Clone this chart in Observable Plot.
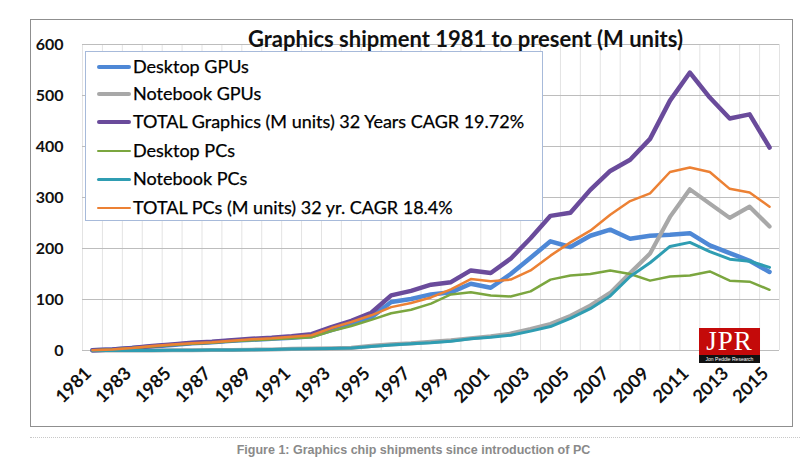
<!DOCTYPE html>
<html>
<head>
<meta charset="utf-8">
<script src="https://cdn.jsdelivr.net/npm/d3@7"></script>
<script src="https://cdn.jsdelivr.net/npm/@observablehq/plot@0.6"></script>
<style>
  html, body { margin: 0; padding: 0; background: #fff; }
  #wrap { position: relative; width: 800px; height: 461px; overflow: hidden; background: #fff; }
  #chart { position: absolute; left: 0; top: 0; }
  .abs { position: absolute; }
  #frame { left: 30px; top: 19px; width: 761px; height: 406px; border: 1.5px solid #8f8f8f; pointer-events: none; }
  #title { left: 0; width: 931px; top: 25px; text-align: center; font: bold 22px Lato, sans-serif; color: #111; white-space: nowrap; }
  #legend { left: 85px; top: 51px; width: 456px; height: 168px; border: 1px solid #a7bada; background: #fff; }
  .lg-row { position: absolute; left: 0; height: 20px; }
  .lg-line { position: absolute; left: 11px; width: 34px; border-radius: 2px; }
  .lg-text { position: absolute; left: 47px; top: -12px; font: 18px Lato, sans-serif; color: #000; white-space: nowrap; line-height: 22px; -webkit-text-stroke: 0.25px #000; }
  #logo { left: 699px; top: 328px; width: 61px; height: 35px; background: #c40a0a; }
  #logo .jpr { position: absolute; left: 0; width: 61px; top: -2px; text-align: center; font: 27px "Liberation Serif", serif; color: #fff; line-height: 30px; letter-spacing: 1px; }
  #logo .strip { position: absolute; left: 0; top: 27px; width: 61px; height: 8px; background: #111; color: #fff; font: 5px "Liberation Sans", sans-serif; text-align: center; line-height: 8px; white-space: nowrap; }
  #dots { left: 30px; top: 437px; width: 770px; border-top: 1px dotted #c8c8c8; }
  #caption { left: 0; width: 827px; top: 443px; text-align: center; font: bold 12.5px "Liberation Sans", Arial, sans-serif; color: #8a8a8a; white-space: nowrap; }
</style>
</head>
<body>
<div id="wrap">
  <div id="chart"></div>
  <div id="frame" class="abs"></div>
  <div id="title" class="abs"></div>
  <div id="legend" class="abs"></div>
  <div id="logo" class="abs"><div class="jpr">JPR</div><div class="strip">Jon Peddie Research</div></div>
  <div id="dots" class="abs"></div>
  <div id="caption" class="abs"></div>
</div>
<script>
// ---- data ----
const years = [1981,1982,1983,1984,1985,1986,1987,1988,1989,1990,1991,1992,1993,1994,1995,1996,1997,1998,1999,2000,2001,2002,2003,2004,2005,2006,2007,2008,2009,2010,2011,2012,2013,2014,2015];
const tickYears = [1981,1983,1985,1987,1989,1991,1993,1995,1997,1999,2001,2003,2005,2007,2009,2011,2013,2015];
const yTicks = [0,100,200,300,400,500,600];

const desktopGPUs = [0.5,2,5,8,11,14,16,19,21,23,25,28,40,52,65,95,101,110,114,131,123,150,182,214,203,225,237,219,225,227,230,206,191,176,154];
const notebookGPUs = [0,0,0,0,0.5,0.5,1,1,1.5,2,3,3.5,4,5,9,12,14,17,20,24,28,33,42,52,68,88,113,152,190,262,316,288,260,282,243];
const totalGraphics = [0.5,2,5,9,12,15,17,20,23,25,28,32,46,58,74,108,117,129,134,157,152,180,220,264,270,315,352,374,415,490,545,496,455,463,398];
const desktopPCs = [0.5,2,5,8,11,13,15,18,20,22,24,26,38,48,60,73,80,92,110,114,108,106,116,139,147,150,157,150,137,145,147,155,137,135,119];
const notebookPCs = [0,0,0,0,0.5,0.5,1,1,1.5,2,3,3.5,4,5,8,11,13,15,18,23,26,30,38,47,63,82,107,145,172,204,212,194,179,175,163];
const totalPCs = [0.5,2,5,9,12,14,16,19,22,24,27,30,44,56,69,85,93,104,120,140,136,139,157,186,212,235,266,293,308,350,359,350,317,310,282];

const seriesNames = ["Desktop GPUs","Notebook GPUs","TOTAL Graphics (M units) 32 Years CAGR 19.72%","Desktop PCs","Notebook PCs","TOTAL PCs (M units) 32 yr. CAGR 18.4%"];
const seriesValues = [desktopGPUs, notebookGPUs, totalGraphics, desktopPCs, notebookPCs, totalPCs];

const titleText = "Graphics shipment 1981 to present (M units)";
const captionText = "Figure 1: Graphics chip shipments since introduction of PC";

// ---- styles ----
const colors = ["#4e88d6","#a8a8a8","#6a4b9b","#7ba63f","#2f9db2","#ec8134"];
const widths = [4.5, 4.2, 4.5, 2.5, 3, 2.5];

// ---- table ----
const tables = seriesValues.map((vals, i) => years.map((yr, j) => ({year: yr, value: vals[j], series: seriesNames[i]})));
const gridX = years.map(y => y - 0.5).concat([years[years.length - 1] + 0.5]);

const chart = Plot.plot({
  width: 800,
  height: 461,
  marginLeft: 82,
  marginRight: 21,
  marginTop: 44,
  marginBottom: 111,
  x: {type: "linear", domain: [1980.5, 2015.5], axis: null},
  y: {domain: [0, 600], axis: null, label: null},
  style: {fontFamily: "Lato, sans-serif", background: "transparent", overflow: "visible"},
  marks: [
    Plot.ruleX(gridX, {stroke: "#e3e3e3", strokeWidth: 1}),
    Plot.ruleY(yTicks, {stroke: "#bdbdbd", strokeWidth: 1}),
    Plot.axisY(yTicks, {tickSize: 0, tickPadding: 19, fontSize: 16, fontWeight: "bold", fill: "#111", label: null}),
    Plot.text(tickYears, {x: d => d, text: d => String(d), frameAnchor: "bottom", dy: 24, dx: 0, rotate: -45, textAnchor: "end", fontSize: 18, fontWeight: "bold", fill: "#111"}),
    ...tables.map((t, i) => Plot.line(t, {x: "year", y: "value", stroke: colors[i], strokeWidth: widths[i], strokeLinejoin: "round", strokeLinecap: "round"}))
  ]
});
document.getElementById("chart").appendChild(chart);

document.getElementById("title").textContent = titleText;
document.getElementById("caption").textContent = captionText;

const legend = document.getElementById("legend");
const rowTops = [15, 42, 70, 99, 127, 156];
seriesNames.forEach((name, i) => {
  const row = document.createElement("div");
  row.className = "lg-row";
  row.style.top = rowTops[i] + "px";
  const ln = document.createElement("div");
  ln.className = "lg-line";
  ln.style.background = colors[i];
  ln.style.height = widths[i] + "px";
  ln.style.top = (-widths[i] / 2) + "px";
  const tx = document.createElement("div");
  tx.className = "lg-text";
  tx.textContent = name;
  row.appendChild(ln);
  row.appendChild(tx);
  legend.appendChild(row);
});
</script>
</body>
</html>
